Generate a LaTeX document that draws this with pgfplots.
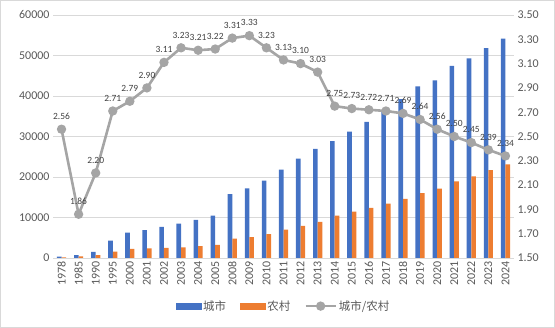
\documentclass[border=0pt]{standalone}
\usepackage{pgfplots}
\pgfplotsset{compat=1.18}
\usepackage{fontspec}
\setmainfont{Carlito}
\newfontfamily\cjk{Noto Sans CJK SC}
\definecolor{cblue}{HTML}{4472C4}
\definecolor{corange}{HTML}{ED7D31}
\definecolor{cgray}{HTML}{A5A5A5}
\definecolor{gridc}{HTML}{D9D9D9}
\definecolor{tickc}{HTML}{595959}
\definecolor{labc}{HTML}{404040}
\pgfplotsset{/pgf/number format/assume math mode=true}
\pgfplotstableread{
x urban rural ratio
0 343.4 133.6 2.56
1 739.1 397.6 1.86
2 1510.2 686.3 2.20
3 4283.0 1577.7 2.71
4 6280.0 2253.4 2.79
5 6859.6 2366.4 2.90
6 7702.8 2475.6 3.11
7 8472.2 2622.2 3.23
8 9421.6 2936.4 3.21
9 10493.0 3254.9 3.22
10 15780.8 4760.6 3.31
11 17174.7 5153.2 3.33
12 19109.4 5919.0 3.23
13 21809.8 6977.3 3.13
14 24564.7 7916.6 3.10
15 26955.1 8895.9 3.03
16 28844 10489 2.75
17 31195 11422 2.73
18 33616 12363 2.72
19 36396 13432 2.71
20 39251 14617 2.69
21 42359 16021 2.64
22 43834 17131 2.56
23 47412 18931 2.50
24 49283 20133 2.45
25 51821 21691 2.39
26 54188 23119 2.34
}\datatable
\begin{document}
\begin{tikzpicture}
\useasboundingbox (0,0) rectangle (555bp,328bp);
\draw[gridc, line width=0.75bp] (0.5bp,0.5bp) rectangle (554.5bp,327.5bp);
\begin{axis}[
  at={(53bp,70bp)}, anchor=south west,
  width=461bp, height=243bp, scale only axis,
  xmin=-0.5, xmax=26.5, ymin=0, ymax=60000,
  ytick={0,10000,20000,30000,40000,50000,60000},
  scaled y ticks=false,
  yticklabel style={/pgf/number format/1000 sep={}, font=\fontsize{12}{12}\selectfont, text=tickc},
  xtick={0,...,26},
  xticklabels={1978,1985,1990,1995,2000,2001,2002,2003,2004,2005,2008,2009,2010,2011,2012,2013,2014,2015,2016,2017,2018,2019,2020,2021,2022,2023,2024},
  xticklabel style={rotate=90, anchor=east, font=\fontsize{12}{12}\selectfont, text=tickc},
  axis x line*=bottom, axis y line*=left,
  x axis line style={gridc, line width=0.75bp, -},
  y axis line style={draw=none},
  major tick length=0pt,
  ymajorgrids, grid style={gridc, line width=0.75bp},
  ybar=0pt, bar width=4.6bp,
]
\addplot[fill=cblue, draw=none] table[x=x, y=urban] {\datatable};
\addplot[fill=corange, draw=none] table[x=x, y=rural] {\datatable};
\end{axis}
\begin{axis}[
  at={(53bp,70bp)}, anchor=south west,
  width=461bp, height=243bp, scale only axis,
  xmin=-0.5, xmax=26.5, ymin=1.5, ymax=3.5,
  ytick={1.5,1.7,1.9,2.1,2.3,2.5,2.7,2.9,3.1,3.3,3.5},
  yticklabel style={/pgf/number format/.cd, fixed, fixed zerofill, precision=2, /tikz/.cd, font=\fontsize{12}{12}\selectfont, text=tickc},
  axis y line*=right, axis x line=none,
  y axis line style={draw=none},
  major tick length=0pt,
  legend style={at={(0.5,-0.198)}, anchor=center, draw=none, fill=none,
    legend columns=3, font=\cjk\fontsize{11.5}{11.5}\selectfont, text=tickc,
    /tikz/every even column/.append style={column sep=12bp}},
]
\addlegendimage{legend image code/.code={\fill[cblue] (0bp,-3bp) rectangle (25bp,3bp);}}
\addlegendentry{城市}
\addlegendimage{legend image code/.code={\fill[corange] (0bp,-3bp) rectangle (25bp,3bp);}}
\addlegendentry{农村}
\addplot[cgray, line width=2.6bp, mark=*, mark size=3.3bp, mark options={fill=cgray, draw=cgray},
  nodes near coords,
  nodes near coords style={/pgf/number format/.cd, fixed, fixed zerofill, precision=2, /tikz/.cd,
    font=\fontsize{9.5}{9.5}\selectfont, text=labc, anchor=south, yshift=5bp},
  legend image code/.code={\draw[cgray, line width=2.6bp] (0bp,0bp) -- (30bp,0bp); \fill[cgray] (15bp,0bp) circle (3.3bp);}
] table[x=x, y=ratio] {\datatable};
\addlegendentry{城市/农村}
\end{axis}
\end{tikzpicture}
\end{document}
